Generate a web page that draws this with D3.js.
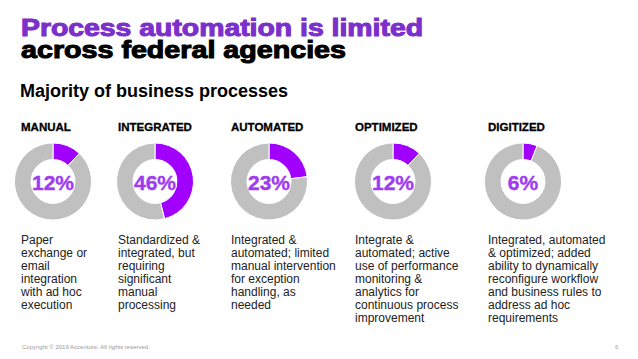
<!DOCTYPE html>
<html>
<head>
<meta charset="utf-8">
<script src="https://cdn.jsdelivr.net/npm/d3@7"></script>
<style>
  body { margin: 0; background: #fff; }
  svg { display: block; font-family: 'Liberation Sans', Arial, sans-serif; }
</style>
</head>
<body>
<div id="chart"></div>
<script>
const categories = ['MANUAL', 'INTEGRATED', 'AUTOMATED', 'OPTIMIZED', 'DIGITIZED']
const shares = [12, 46, 23, 12, 6]
const descriptions = [
  ['Paper', 'exchange or', 'email', 'integration', 'with ad hoc', 'execution'],
  ['Standardized &', 'integrated, but', 'requiring', 'significant', 'manual', 'processing'],
  ['Integrated &', 'automated; limited', 'manual intervention', 'for exception', 'handling, as', 'needed'],
  ['Integrate &', 'automated; active', 'use of performance', 'monitoring &', 'analytics for', 'continuous process', 'improvement'],
  ['Integrated, automated', '& optimized; added', 'ability to dynamically', 'reconfigure workflow', 'and business rules to', 'address ad hoc', 'requirements']
]

const width = 638
const height = 359
const colLeft = [21, 118, 231, 355, 488] // columns are not evenly spaced on the slide
const donutShift = [32, 37, 38, 38, 35]
const outerR = 38.5
const innerR = 22
const donutY = 181.5

const purple = '#a100ff'
const grey = '#c0c0c0'

const svg = d3.select('#chart').append('svg')
  .attr('width', width)
  .attr('height', height)

// title, heavy face faked with a stroke since Arial Black isn't installed
svg.append('text')
  .attr('x', 21).attr('y', 36)
  .attr('font-size', 23).attr('font-weight', 900)
  .attr('fill', '#7b30cc').attr('stroke', '#7b30cc').attr('stroke-width', 1)
  .attr('textLength', 402).attr('lengthAdjust', 'spacingAndGlyphs')
  .text('Process automation is limited')

svg.append('text')
  .attr('x', 21).attr('y', 57.5)
  .attr('font-size', 23).attr('font-weight', 900)
  .attr('fill', '#000').attr('stroke', '#000').attr('stroke-width', 1)
  .attr('textLength', 325).attr('lengthAdjust', 'spacingAndGlyphs')
  .text('across federal agencies')

svg.append('text')
  .attr('x', 20).attr('y', 97)
  .attr('font-size', 18).attr('font-weight', 'bold')
  .attr('fill', '#000')
  .text('Majority of business processes')

const pie = d3.pie().sort(null)
const arc = d3.arc().innerRadius(innerR).outerRadius(outerR)

const cols = svg.selectAll('g.col')
  .data(categories.map((c, i) => ({ name: c, value: shares[i], lines: descriptions[i], x: colLeft[i], shift: donutShift[i] })))
  .join('g')
  .attr('class', 'col')
  .attr('transform', d => `translate(${d.x},0)`)

cols.append('text')
  .attr('x', 0).attr('y', 131)
  .attr('font-size', 11.5).attr('font-weight', 'bold')
  .attr('fill', '#000').attr('stroke', '#000').attr('stroke-width', 0.3)
  .text(d => d.name)

const donut = cols.append('g')
  .attr('transform', d => `translate(${d.shift},${donutY})`)

donut.selectAll('path')
  .data(d => pie([d.value, 100 - d.value]))
  .join('path')
  .attr('d', arc)
  .attr('fill', (d, i) => i === 0 ? purple : grey)
  .attr('stroke', '#fff')
  .attr('stroke-width', 1)

donut.append('text')
  .attr('text-anchor', 'middle')
  .attr('y', 8)
  .attr('font-size', 21).attr('font-weight', 'bold')
  .attr('fill', '#a03cf0').attr('stroke', '#a03cf0').attr('stroke-width', 0.4)
  .text(d => d.value + '%')

cols.append('text')
  .attr('font-size', 12)
  .attr('fill', '#222')
  .selectAll('tspan')
  .data(d => d.lines)
  .join('tspan')
  .attr('x', 0)
  .attr('y', (d, i) => 244 + i * 13)
  .text(d => d)

// footer
svg.append('text')
  .attr('x', 22).attr('y', 349)
  .attr('font-size', 6)
  .attr('fill', '#9a9a9a')
  .text('Copyright © 2019 Accenture. All rights reserved.')

svg.append('text')
  .attr('x', 615).attr('y', 349)
  .attr('font-size', 6)
  .attr('fill', '#9a9a9a')
  .text('6')
</script>
</body>
</html>
